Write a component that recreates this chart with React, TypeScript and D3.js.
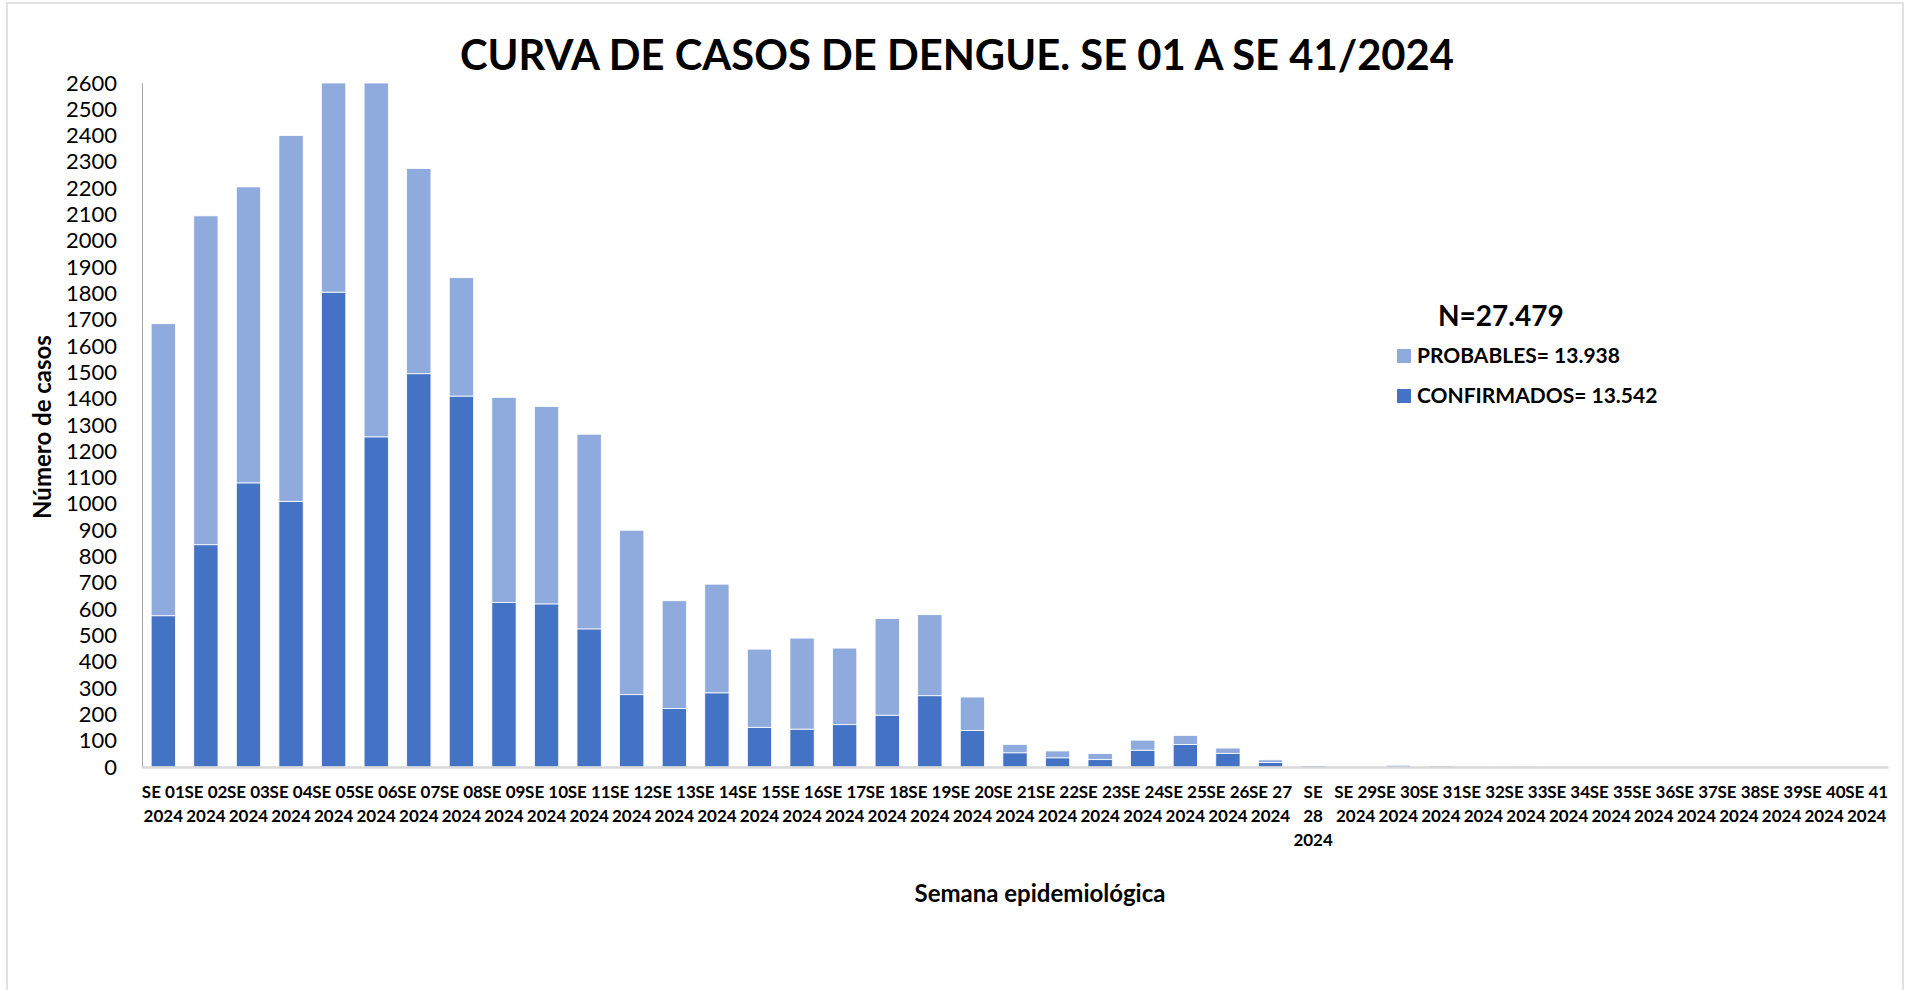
import React, { useEffect, useRef } from 'react';
import * as d3 from 'd3';

// semanas epidemiológicas SE 01 .. SE 41
const weeks = d3.range(1, 42).map(n => `SE ${String(n).padStart(2, '0')}`);

const confirmados = [
  575, 845, 1080, 1010, 1805, 1255, 1495, 1410, 625, 620,
  525, 275, 222, 282, 151, 144, 161, 197, 271, 139,
  54, 35, 28, 64, 86, 52, 17, 6, 0, 7,
  5, 0, 0, 0, 0, 0, 0, 0, 0, 0, 0,
];

const probables = [
  1110, 1250, 1125, 1390, 870, 1420, 780, 450, 780, 750,
  740, 625, 410, 413, 297, 346, 291, 367, 308, 127,
  32, 26, 23, 38, 34, 20, 10, 1, 3, 1,
  1, 2, 1, 0, 0, 0, 0, 0, 0, 0, 0,
];

const yTicks = d3.range(0, 2700, 100);

const legendItems = [
  { key: 'probables', label: 'PROBABLES= 13.938', color: '#8FAADC' },
  { key: 'confirmados', label: 'CONFIRMADOS= 13.542', color: '#4472C4' },
];

const W = 1906;
const H = 990;
const font = 'Lato, "Open Sans", sans-serif';

const App: React.FC = () => {
  const svgRef = useRef<SVGSVGElement>(null);

  useEffect(() => {
    if (!svgRef.current) return;
    const svg = d3.select(svgRef.current);
    svg.selectAll('*').remove();

    const left = 142, right = 1888, top = 83, bottom = 767;

    const table = weeks.map((w, i) => ({
      week: w,
      confirmados: confirmados[i],
      probables: probables[i],
    }));

    const x = d3.scaleBand<string>()
      .domain(weeks)
      .range([left, right])
      .paddingInner(0.43)
      .paddingOuter(0.215);

    const y = d3.scaleLinear()
      .domain([0, 2600])
      .range([bottom, top])
      .clamp(true);

    const color = d3.scaleOrdinal<string, string>()
      .domain(legendItems.map(d => d.key))
      .range(legendItems.map(d => d.color));

    // outer frame
    svg.append('rect')
      .attr('x', 7).attr('y', 3)
      .attr('width', W - 10).attr('height', H + 20)
      .attr('fill', '#fff')
      .attr('stroke', '#d9d9d9')
      .attr('stroke-width', 1.5);

    // title
    svg.append('text')
      .attr('x', 957).attr('y', 70)
      .attr('text-anchor', 'middle')
      .attr('font-family', font)
      .attr('font-weight', 700)
      .attr('font-size', 42)
      .attr('textLength', 994)
      .attr('lengthAdjust', 'spacingAndGlyphs')
      .text('CURVA DE CASOS DE DENGUE. SE 01 A SE 41/2024');

    // stacked bars
    const series = d3.stack<any>().keys(['confirmados', 'probables'])(table);

    svg.append('g')
      .selectAll('g')
      .data(series)
      .join('g')
      .attr('fill', d => color(d.key))
      .selectAll('rect')
      .data(d => d)
      .join('rect')
      .attr('x', d => x(d.data.week)!)
      .attr('width', x.bandwidth())
      .attr('y', d => y(d[1]))
      .attr('height', d => Math.max(0, y(d[0]) - y(d[1])))
      .attr('stroke', '#fff')
      .attr('stroke-width', 0.8);

    // y axis
    const yAxis = svg.append('g')
      .attr('transform', `translate(${left},0)`)
      .call(d3.axisLeft(y).tickValues(yTicks).tickSize(0).tickPadding(25).tickFormat(d3.format('d')));
    yAxis.select('.domain').attr('stroke', '#a6a6a6').attr('stroke-width', 1);
    yAxis.selectAll('text')
      .attr('font-family', font)
      .attr('font-size', 22)
      .attr('fill', '#000');

    // x axis
    const xAxis = svg.append('g')
      .attr('transform', `translate(0,${bottom})`)
      .call(d3.axisBottom(x).tickSize(0).tickFormat(() => ''));
    xAxis.select('.domain').attr('stroke', '#d9d9d9').attr('stroke-width', 2.5);

    xAxis.selectAll<SVGGElement, string>('.tick').each(function (w) {
      const lines = w === 'SE 28' ? ['SE', '28', '2024'] : [w, '2024'];
      const t = d3.select(this).select('text')
        .attr('font-family', font)
        .attr('font-weight', 700)
        .attr('font-size', 17)
        .attr('fill', '#000')
        .attr('dy', null)
        .attr('y', null);
      t.selectAll('tspan')
        .data(lines)
        .join('tspan')
        .attr('x', 0)
        .attr('y', (_, i) => 31 + i * 24)
        .text(d => d);
    });

    // axis titles
    svg.append('text')
      .attr('transform', `translate(41,${(top + bottom) / 2 + 2}) rotate(-90)`)
      .attr('text-anchor', 'middle')
      .attr('dominant-baseline', 'central')
      .attr('font-family', font)
      .attr('font-weight', 700)
      .attr('font-size', 24)
      .text('Número de casos');

    svg.append('text')
      .attr('x', 1040).attr('y', 902)
      .attr('text-anchor', 'middle')
      .attr('font-family', font)
      .attr('font-weight', 700)
      .attr('font-size', 24)
      .text('Semana epidemiológica');

    // legend
    svg.append('text')
      .attr('x', 1438).attr('y', 326)
      .attr('font-family', font)
      .attr('font-weight', 700)
      .attr('font-size', 28)
      .text('N=27.479');

    const lg = svg.append('g')
      .selectAll('g')
      .data(legendItems)
      .join('g')
      .attr('transform', (_, i) => `translate(1397,${349 + i * 40})`);
    lg.append('rect')
      .attr('width', 14).attr('height', 14)
      .attr('fill', d => d.color);
    lg.append('text')
      .attr('x', 20).attr('y', 14)
      .attr('font-family', font)
      .attr('font-weight', 700)
      .attr('font-size', 21)
      .text(d => d.label);
  }, []);

  return (
    <div style={{ position: 'absolute', left: 0, top: 0, background: '#fff' }}>
      <svg ref={svgRef} width={W} height={H}></svg>
    </div>
  );
};

export default App;
